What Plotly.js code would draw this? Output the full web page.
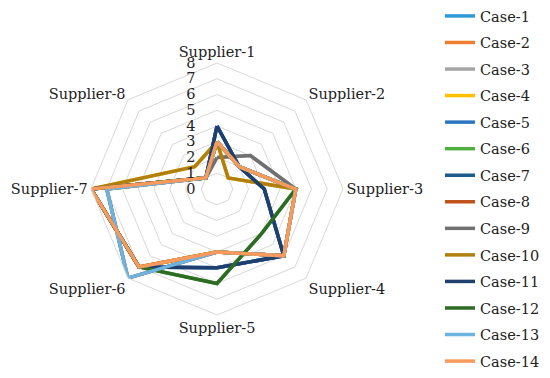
<!DOCTYPE html>
<html>
<head>
<meta charset="utf-8">
<script src="https://cdn.plot.ly/plotly-3.0.1.min.js"></script>
<style>html,body{margin:0;padding:0;background:#fff;}#chart{width:550px;height:378px;}</style>
</head>
<body>
<div id="chart"></div>
<script>
const suppliers = ["Supplier-1","Supplier-2","Supplier-3","Supplier-4","Supplier-5","Supplier-6","Supplier-7","Supplier-8"];
const caseNames = ["Case-1","Case-2","Case-3","Case-4","Case-5","Case-6","Case-7","Case-8","Case-9","Case-10","Case-11","Case-12","Case-13","Case-14"];
const case1  = [3,2,5,6,4,7,8,1];
const case2  = [3,2,5,6,4,8,7,1];
const case3  = [2,3,5,6,4,8,7,1];
const case4  = [3,1,5,6,4,7,8,2];
const case5  = [4,2,3,6,5,7,8,1];
const case6  = [3,2,5,4,6,7,8,1];
const case7  = [4,2,3,6,5,7,8,1];
const case8  = [3,2,5,6,4,7,8,1];
const case9  = [2,3,5,6,4,8,7,1];
const case10 = [3,1,5,6,4,7,8,2];
const case11 = [4,2,3,6,5,7,8,1];
const case12 = [3,2,5,4,6,7,8,1];
const case13 = [3,2,5,6,4,8,7,1];
const case14 = [3,2,5,6,4,7,8,1];
const caseValues = [case1,case2,case3,case4,case5,case6,case7,case8,case9,case10,case11,case12,case13,case14];
const caseColors = ["#2E9BD6","#ED7D31","#A5A5A5","#FFC000","#2E75C0","#4EAE3E","#1F5C8B","#C0531B","#707070","#B07F0F","#1F3F6E","#2E6B24","#6CB3E0","#F79A5B"];
const radialTicks = [0,1,2,3,4,5,6,7,8];

const FONT = "DejaVu Serif";
const traces = caseNames.map((name, i) => ({
  type: "scatterpolar",
  mode: "lines",
  name: name,
  legendgroup: name,
  r: caseValues[i].concat([caseValues[i][0]]),
  theta: suppliers.concat([suppliers[0]]),
  line: {color: caseColors[i], width: 3.5},
  hoverinfo: "skip"
}));

const layout = {
  width: 550, height: 378,
  margin: {l: 0, r: 0, t: 0, b: 0},
  paper_bgcolor: "#ffffff",
  font: {family: FONT, size: 14.5, color: "#222"},
  showlegend: true,
  legend: {
    x: 440/550, xanchor: "left", y: 1, yanchor: "top",
    font: {family: FONT, size: 14.5, color: "#222"},
    tracegroupgap: 4.7,
    bgcolor: "rgba(0,0,0,0)"
  },
  polar: {
    domain: {x: [(217-126)/550, (217+126)/550], y: [(189-126)/378, (189+126)/378]},
    bgcolor: "rgba(0,0,0,0)",
    gridshape: "linear",
    angularaxis: {
      type: "category",
      categoryarray: suppliers,
      rotation: 90,
      direction: "clockwise",
      showgrid: false,
      showline: true,
      linecolor: "#d9d9d9",
      linewidth: 1,
      ticks: "",
      tickfont: {family: FONT, size: 14.5, color: "#222"}
    },
    radialaxis: {
      range: [0, 8],
      tickvals: radialTicks,
      ticktext: radialTicks.map(String),
      angle: 90,
      tickangle: 90,
      side: "counterclockwise",
      showline: false,
      ticks: "outside",
      ticklen: 16,
      tickcolor: "rgba(0,0,0,0)",
      gridcolor: "#d9d9d9",
      gridwidth: 1,
      tickfont: {family: FONT, size: 14.5, color: "#222"}
    }
  }
};

Plotly.newPlot("chart", traces, layout, {displayModeBar: false, staticPlot: true});
</script>
</body>
</html>
